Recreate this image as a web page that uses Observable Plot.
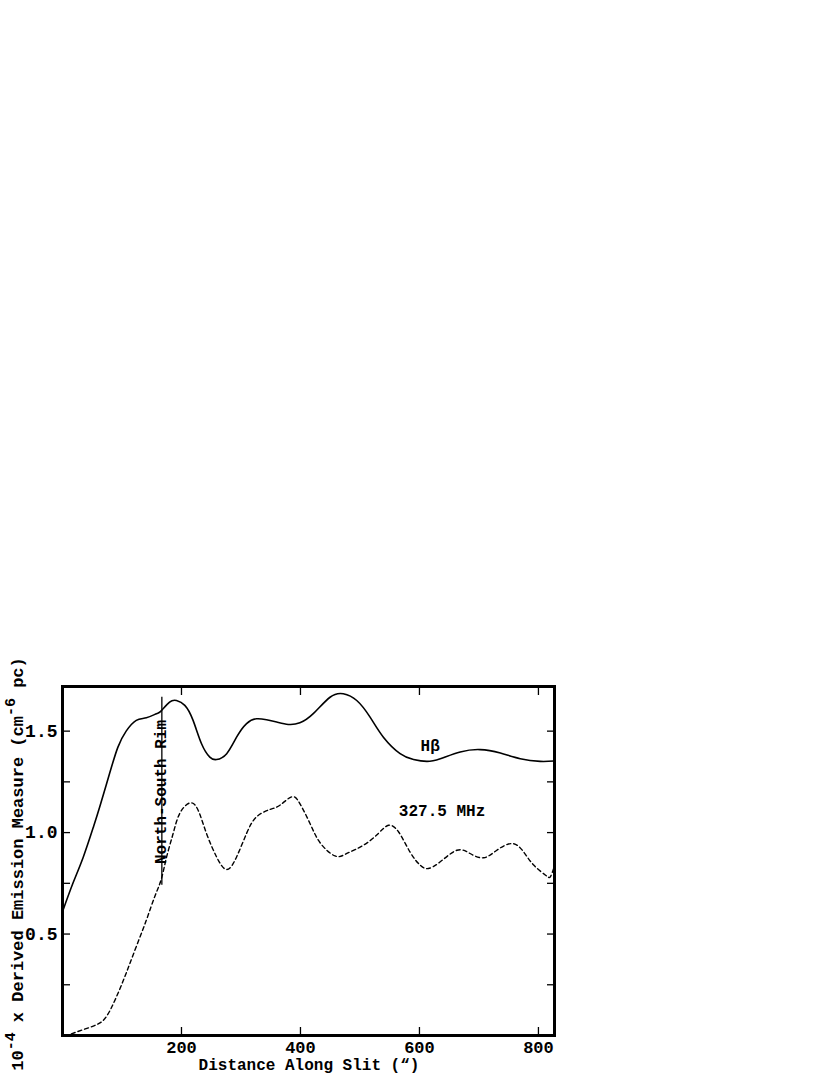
<!DOCTYPE html>
<html>
<head>
<meta charset="utf-8">
<script src="https://cdn.jsdelivr.net/npm/d3@7"></script>
<script src="https://cdn.jsdelivr.net/npm/@observablehq/plot@0.6"></script>
<style>
  html, body { margin: 0; padding: 0; background: #fff; }
  svg { display: block; }
</style>
</head>
<body>
<div id="chart"></div>
<script>
// Hβ emission measure (solid)
const hbX = [0, 17.5, 35, 52, 62.5, 79, 93, 107, 124, 141, 158, 166, 180, 191.6, 205.6, 219.5, 233.7, 247.6, 259, 276, 292.6, 309.4, 326, 343, 360, 379.5, 399, 421.5, 449.7, 472, 494.6, 517, 539.4, 567.5, 590, 612.5, 635, 668.5, 702, 736, 769.4, 803, 826];
const hbY = [0.61, 0.75, 0.88, 1.028, 1.126, 1.29, 1.42, 1.50, 1.553, 1.566, 1.586, 1.60, 1.643, 1.651, 1.627, 1.553, 1.438, 1.372, 1.36, 1.389, 1.47, 1.537, 1.561, 1.556, 1.545, 1.533, 1.541, 1.586, 1.667, 1.684, 1.651, 1.569, 1.47, 1.389, 1.36, 1.351, 1.364, 1.397, 1.409, 1.392, 1.364, 1.351, 1.353];
// 327.5 MHz (dashed)
const radX = [15, 34, 57, 74, 90.6, 107, 124, 141, 155, 166, 175, 186, 197, 214, 228, 242, 259, 276, 292.6, 309.4, 326, 348.6, 365.5, 385, 399, 416, 433, 458, 478, 506, 531, 548, 565, 584, 601, 615, 635, 663, 685, 708, 730, 756, 775, 792, 812, 820, 825.6];
const radY = [0.008, 0.028, 0.053, 0.094, 0.19, 0.307, 0.438, 0.569, 0.684, 0.77, 0.88, 0.996, 1.094, 1.146, 1.11, 0.996, 0.88, 0.818, 0.88, 0.996, 1.077, 1.114, 1.135, 1.176, 1.143, 1.045, 0.95, 0.885, 0.897, 0.938, 0.996, 1.036, 1.003, 0.905, 0.84, 0.823, 0.856, 0.913, 0.897, 0.876, 0.913, 0.946, 0.905, 0.84, 0.79, 0.782, 0.823];

const xTicks = [200, 400, 600, 800];
const yTicks = [0.25, 0.5, 0.75, 1.0, 1.25, 1.5];
const yLabelTicks = [0.5, 1.0, 1.5];
const xDomain = [0, 827];
const yDomain = [0, 1.72];

const rimMarker = [{x: 167, y1: 0.74, y2: 1.667, ty: 1.2, label: "North-South Rim"}];
const seriesLabels = [
  {x: 618, y: 1.428, label: "Hβ"},
  {x: 638, y: 1.108, label: "327.5 MHz"}
];

const hb = hbX.map((x, i) => ({x, y: hbY[i]}));
const rad = radX.map((x, i) => ({x, y: radY[i]}));

const FONT = "'Liberation Mono', 'Courier New', monospace";

const chart = Plot.plot({
  width: 830,
  height: 1075,
  marginLeft: 62,
  marginRight: 276,
  marginTop: 686,
  marginBottom: 40,
  style: {fontFamily: FONT, fontWeight: "bold", color: "#000", background: "#fff"},
  x: {domain: xDomain},
  y: {domain: yDomain},
  marks: [
    // inward ticks
    Plot.axisX(xTicks, {anchor: "bottom", tickSize: -8, tickFormat: () => "", label: null, strokeWidth: 1.3}),
    Plot.axisX(xTicks, {anchor: "top", tickSize: -8, tickFormat: () => "", label: null, strokeWidth: 1.3}),
    Plot.axisY(yTicks, {anchor: "left", tickSize: -8, tickFormat: () => "", label: null, strokeWidth: 1.3}),
    Plot.axisY(yTicks, {anchor: "right", tickSize: -8, tickFormat: () => "", label: null, strokeWidth: 1.3}),
    // tick labels
    Plot.axisX(xTicks, {anchor: "bottom", tickSize: 0, tickPadding: 5, fontSize: 17, tickFormat: d => String(d), label: null}),
    Plot.axisY(yLabelTicks, {anchor: "left", tickSize: 0, tickPadding: 5, fontSize: 18, tickFormat: d => d.toFixed(1), label: null}),
    // data
    Plot.line(hb, {x: "x", y: "y", curve: "natural", stroke: "#000", strokeWidth: 1.6}),
    Plot.line(rad, {x: "x", y: "y", curve: "natural", stroke: "#000", strokeWidth: 1.4, strokeDasharray: "4,3"}),
    // rim marker
    Plot.ruleX(rimMarker, {x: "x", y1: "y1", y2: "y2", stroke: "#000", strokeWidth: 1.3}),
    Plot.text(rimMarker, {x: "x", y: "ty", text: "label", rotate: -90, fontSize: 16, dx: -1, fill: "#000"}),
    Plot.text(seriesLabels, {x: "x", y: "y", text: "label", fontSize: 16, fill: "#000"}),
    Plot.frame({stroke: "#000", strokeWidth: 3})
  ]
});

document.getElementById("chart").appendChild(chart);

// axis titles
const svg = d3.select(chart);
svg.append("text")
  .attr("x", 309).attr("y", 1070)
  .attr("text-anchor", "middle")
  .attr("font-family", FONT).attr("font-weight", "bold").attr("font-size", 16)
  .attr("fill", "#000")
  .text("Distance Along Slit (“)");

const yt = svg.append("text")
  .attr("transform", "translate(23,864) rotate(-90)")
  .attr("text-anchor", "middle")
  .attr("font-family", FONT).attr("font-weight", "bold").attr("font-size", 17)
  .attr("fill", "#000");
yt.append("tspan").text("10");
yt.append("tspan").attr("dy", -8).attr("font-size", 15).text("-4");
yt.append("tspan").attr("dy", 8).text(" x Derived Emission Measure (cm");
yt.append("tspan").attr("dy", -8).attr("font-size", 15).text("-6");
yt.append("tspan").attr("dy", 8).text(" pc)");
</script>
</body>
</html>
